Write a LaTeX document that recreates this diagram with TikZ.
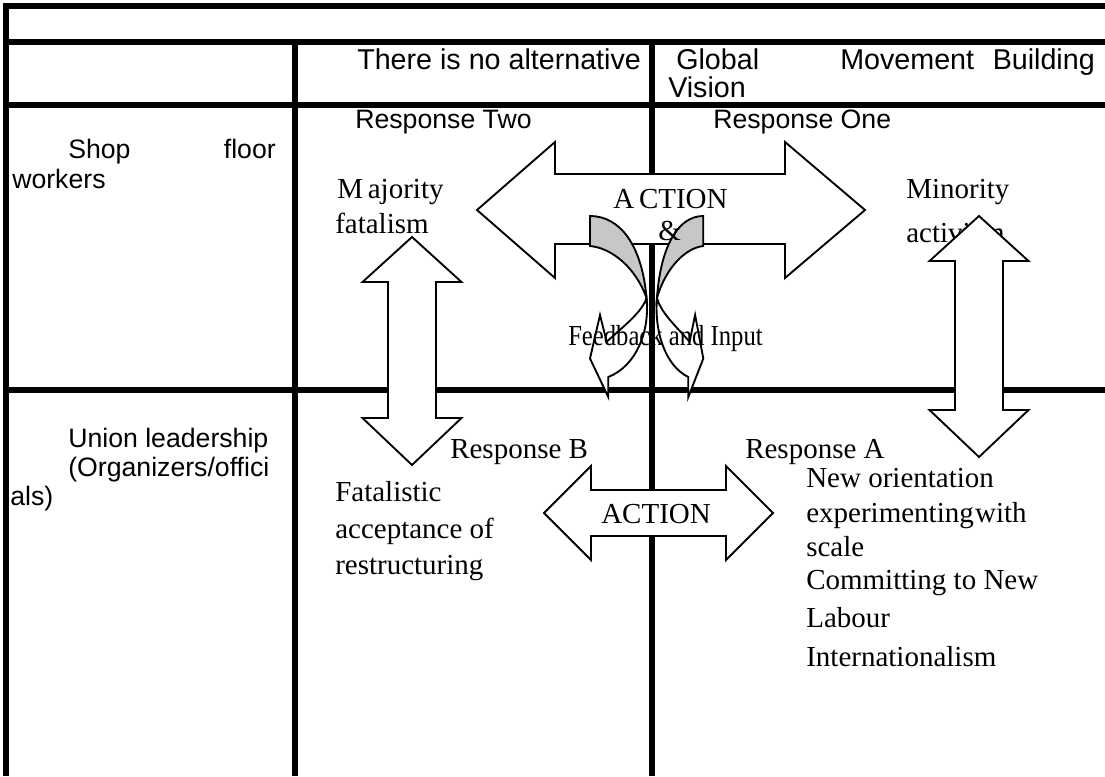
\documentclass[tikz,border=0pt]{standalone}
\usepackage{fontspec}
\setmainfont{Liberation Serif}
\setsansfont{Liberation Sans}

\begin{document}
\begin{tikzpicture}[x=0.75pt,y=-0.75pt,
    grid/.style={line width=4.4pt,line join=miter},
    blockarrow/.style={draw,fill=white,line width=1.4pt,line join=miter},
    backface/.style={draw,fill=black!22,line width=1.4pt,line join=miter},
    sanslabel/.style={font=\sffamily\fontsize{20}{24}\selectfont,inner sep=0pt,anchor=base west},
    headlabel/.style={sanslabel,font=\sffamily\fontsize{21.5}{26}\selectfont},
    seriflabel/.style={font=\fontsize{21.75}{26}\selectfont,inner sep=0pt,anchor=base west}]
  \useasboundingbox (0,0) rectangle (1105,776);
  % table rules
  \draw[grid] (1105,6) -- (6,6) -- (6,776);
  \foreach \y in {41.7,105,390}{\draw[grid] (6,\y) -- (1105,\y);}
  \foreach \x in {295,652}{\draw[grid] (\x,41.7) -- (\x,776);}
  % header row
  \node[headlabel] (tina) at (357,69) {There is no alternative};
  \node[headlabel] (glob) at (676,69) {Global};
  \node[headlabel] (move) at (840,69) {Movement};
  \node[headlabel,anchor=base east] (build) at (1095,69) {Building};
  \node[headlabel] (vision) at (668,97) {Vision};
  % row labels
  \node[sanslabel] (shop) at (68,158) {Shop};
  \node[sanslabel,anchor=base east] (floor) at (276,158) {floor};
  \node[sanslabel] (workers) at (12,188) {workers};
  \node[sanslabel] (union) at (68,447) {Union leadership};
  \node[sanslabel] (organ) at (68,476) {(Organizers/offici};
  \node[sanslabel] (als) at (10,505) {als)};
  % responses
  \node[sanslabel] (resptwo) at (355,128) {Response Two};
  \node[sanslabel] (respone) at (713,128) {Response One};
  \node[seriflabel] (major) at (337,198) {M\,ajority};
  \node[seriflabel] (fatal) at (335,233) {fatalism};
  \node[seriflabel] (minor) at (906,198) {Minority};
  \node[seriflabel] (activ) at (906,242) {activism};
  \node[seriflabel] (respb) at (450,458) {Response B};
  \node[seriflabel] (respa) at (745,458) {Response A};
  \node[seriflabel] (fat1) at (335,501) {Fatalistic};
  \node[seriflabel] (fat2) at (335,538) {acceptance of};
  \node[seriflabel] (fat3) at (335,574) {restructuring};
  \node[seriflabel] (new1) at (806,487) {New orientation};
  \node[seriflabel] (new2) at (806,522) {experimenting\hspace{1pt}with};
  \node[seriflabel] (new3) at (806,556) {scale};
  \node[seriflabel] (new4) at (806,589) {Committing to New};
  \node[seriflabel] (new5) at (806,627) {Labour};
  \node[seriflabel] (new6) at (806,666) {Internationalism};
  % block arrows
  \draw[blockarrow] (477,210) -- (555,142) -- (555,174) -- (785,174) -- (785,142) -- (865,210)
    -- (785,278) -- (785,244) -- (555,244) -- (555,278) -- cycle;
  \draw[blockarrow] (544,513) -- (591,466) -- (591,490) -- (726,490) -- (726,466) -- (773,513)
    -- (726,560) -- (726,536) -- (591,536) -- (591,560) -- cycle;
  \foreach \cx/\ya/\yb in {412/237/465,979/216/457}{
    \draw[blockarrow] (\cx,\ya) -- ({\cx+49.5},{\ya+45}) -- ({\cx+24},{\ya+45}) -- ({\cx+24},{\yb-47})
      -- ({\cx+49.5},{\yb-47}) -- (\cx,\yb) -- ({\cx-49.5},{\yb-47}) -- ({\cx-24},{\yb-47})
      -- ({\cx-24},{\ya+45}) -- ({\cx-49.5},{\ya+45}) -- cycle;
  }
  % twisted feedback arrows
  \foreach \ox/\sx in {590/1,703.3/-0.82}{
    \begin{scope}[shift={(\ox,0)},xscale=\sx]
      \draw[backface] (0,216) .. controls (30,216) and (52,245) .. (56.5,298)
        .. controls (46,268) and (22,248) .. (0,246) -- cycle;
      \draw[blockarrow] (56.5,298) .. controls (60,332) and (46,366) .. (18.3,377) -- (18.3,397)
        -- (0,358.5) -- (10,315) -- (16.7,341.7) .. controls (35,325) and (52,312) .. (56.5,298) -- cycle;
    \end{scope}
  }
  % labels on the arrows
  \node[seriflabel] (act) at (613,208) {A\,CTION};
  \node[seriflabel] (amp) at (658,240) {\&};
  \node[seriflabel] (feed) at (568,345) {\scalebox{0.85}[1]{Feedback and Input}};
  \node[seriflabel] (actlow) at (601,523) {ACTION};
\end{tikzpicture}
\end{document}
